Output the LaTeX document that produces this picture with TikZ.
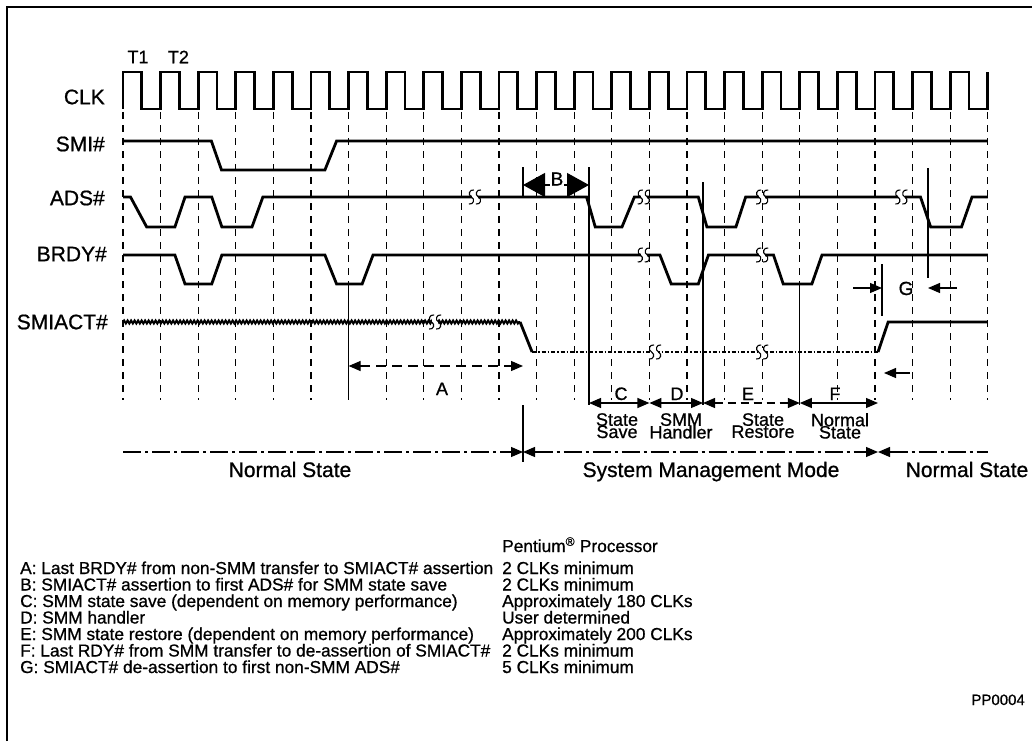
\documentclass[tikz,border=0pt]{standalone}
\usepackage{fontspec}
\setmainfont{Liberation Sans}[FakeBold=0.8]
\usetikzlibrary{arrows.meta,decorations.pathmorphing,positioning}

\begin{document}
\begin{tikzpicture}[
  x=1pt, y=-1pt,
  >={Triangle[length=12pt,width=10pt]},
  every node/.style={
    inner sep=0pt,
    text=black,
    font=\fontsize{17.3}{16.5}\selectfont
  },
  siglabel/.style={anchor=east, font=\fontsize{21}{24}\selectfont},
  tlabel/.style={font=\fontsize{18}{20}\selectfont},
  modelabel/.style={anchor=base, font=\fontsize{21}{24}\selectfont},
  phaselabel/.style={anchor=base, font=\fontsize{18}{20}\selectfont},
  phasetext/.style={
    anchor=north,
    align=center,
    font=\fontsize{18}{12}\selectfont
  },
  legend/.style={anchor=base west},
  wave/.style={line width=2.8pt},
  wavy/.style={
    line width=2pt,
    decorate,
    decoration={snake, amplitude=1.5pt, segment length=3.5pt}
  },
  lowdots/.style={line width=2.4pt, dash pattern=on 4pt off 2pt on 1.5pt off 2pt},
  tickline/.style={line width=1.2pt, dash pattern=on 7pt off 6pt},
  edgeline/.style={line width=1.3pt},
  dimline/.style={line width=1.2pt},
  modeline/.style={line width=1.2pt, dash pattern=on 18pt off 4pt on 3pt off 4pt},
  bigtips/.style={{Triangle[length=22pt,width=24pt]}-{Triangle[length=22pt,width=24pt]}},
  sbrk/.pic={
    \fill[white] (-3.2pt,-4pt) rectangle (3.2pt,4pt);
    \foreach \s in {-3.5pt,3.5pt}
      \draw[line width=1.1pt, xshift=\s]
        (2.5pt,7pt) .. controls (-2pt,8pt) and (-4pt,2pt) .. (0pt,0pt)
        .. controls (4pt,-2pt) and (2pt,-8pt) .. (-2.5pt,-7pt);
  }
]
  \useasboundingbox (0,0) rectangle (1032,741);
  \draw[line width=1.5pt] (7,741) -- (7,7) -- (1032,7);

  % signal names
  \node[tlabel] (tone) at (138,57) {T1};
  \node[tlabel, right=19pt of tone] (ttwo) {T2};
  \node[siglabel] (clk) at (105,97) {CLK};
  \node[siglabel] (smi) at (105,144) {SMI\#};
  \node[siglabel] (ads) at (105,198) {ADS\#};
  \node[siglabel] (brdy) at (107,254) {BRDY\#};
  \node[siglabel] (smiact) at (108,322) {SMIACT\#};

  \begin{scope}[xshift=123pt, x=37.6pt]
    % clock grid
    \foreach \k in {0,...,5,7,8,...,17,19,20,...,23}
      \draw[tickline] (\k,112) -- (\k,400);
    \foreach \k in {6,18}
      \draw[tickline] (\k,112) -- (\k,284);

    % waveforms
    \draw[wave] (0,109) \foreach \k in {0,...,22} {
      -- (\k,72) -- (\k+0.5,72) -- (\k+0.5,109) -- (\k+1,109) } -- (23,72);
    \draw[wave] (0,141) -- (2.35,141) -- (2.62,170) -- (5.37,170)
      -- (5.68,141) -- (23,141);
    \draw[wave] (0,197) -- (0.2,197) -- (0.63,227) -- (1.38,227)
      -- (1.65,197) -- (2.36,197) -- (2.63,227) -- (3.43,227)
      -- (3.72,197) -- (12.33,197) -- (12.56,227) -- (13.27,227)
      -- (13.6,197) -- (15.3,197) -- (15.53,227) -- (16.3,227)
      -- (16.56,197) -- (21.21,197) -- (21.48,227) -- (22.3,227)
      -- (22.58,197) -- (23,197);
    \draw[wave] (0,255) -- (1.38,255) -- (1.65,284) -- (2.36,284)
      -- (2.63,255) -- (5.37,255) -- (5.68,284) -- (6.36,284)
      -- (6.65,255) -- (14.28,255) -- (14.58,284) -- (15.3,284)
      -- (15.57,255) -- (17.3,255) -- (17.56,284) -- (18.32,284)
      -- (18.59,255) -- (23,255);
    \draw[wavy] (0,322) -- (10.56,322);
    \draw[wave] (10.56,322) -- (10.88,352);
    \draw[lowdots] (10.88,352) -- (20.08,352);
    \draw[wave] (20.08,352) -- (20.35,322) -- (23,322);

    % breaks
    \foreach \t/\v in {9.36/197, 13.85/197, 17.0/197, 20.7/197,
                       13.85/255, 17.0/255,
                       8.3/322, 14.15/352, 17.0/352}
      \pic at (\t,\v) {sbrk};
  \end{scope}

  % event markers
  \draw[edgeline] (348.6,284) -- (348.6,400);
  \draw[edgeline] (799.8,284) -- (799.8,405);
  \draw[edgeline] (523,167) -- (523,197);
  \draw[edgeline] (589,167) -- (589,405);
  \draw[edgeline] (703,182) -- (703,405);
  \draw[edgeline] (523,405) -- (523,462);
  \draw[edgeline] (882,264) -- (882,316);
  \draw[edgeline] (928,168) -- (928,278);

  % A
  \coordinate (aL) at (348.6,366);
  \coordinate (aR) at (523,366);
  \draw[dimline, <->, dash pattern=on 10pt off 6pt] (aL) -- (aR);
  \node[phaselabel] (labA) at (442,395) {A};

  % B
  \coordinate (bL) at (523,185);
  \coordinate (bR) at (589,185);
  \draw[dimline, bigtips] (bL) -- (bR);
  \node[fill=white, inner sep=0.5pt, font=\fontsize{19}{20}\selectfont]
    (labB) at (557,179) {B};

  % C to F
  \coordinate (pC) at (589,403);
  \coordinate (pD) at (649.4,403);
  \coordinate (pE) at (703,403);
  \coordinate (pF) at (799.8,403);
  \coordinate (pN) at (878,403);
  \draw[dimline, <->] (pC) -- (pD);
  \draw[dimline, <->] (pD) -- (pE);
  \draw[dimline, <->, dash pattern=on 8pt off 5pt] (pE) -- (pF);
  \draw[dimline, <->] (pF) -- (pN);
  \node[phaselabel] (labC) at (621,400) {C};
  \node[phaselabel] (labD) at (677,400) {D};
  \node[phaselabel] (labE) at (748,400) {E};
  \node[phaselabel] (labF) at (835,400) {F};
  \node[phasetext] (txtC) at (617,413) {State\\[-1.5pt]Save};
  \node[phasetext] (txtD) at (681,413) {SMM\\[-1.5pt]Handler};
  \node[phasetext] (txtE) at (763,413) {State\\[-1.5pt]Restore};
  \node[phasetext] (txtF) at (840,413) {Normal\\[-1.5pt]State};

  % G
  \coordinate (gL) at (882,288);
  \coordinate (gR) at (928,288);
  \draw[dimline, ->] (853,288) -- (gL);
  \draw[dimline, ->] (957,288) -- (gR);
  \node[phaselabel, font=\fontsize{19}{20}\selectfont] (labG) at (906,295) {G};
  \coordinate (gU) at (884,373);
  \draw[dimline, ->] (910,373) -- (gU);

  % operating modes
  \coordinate (mS) at (123,452);
  \coordinate (mA) at (523,452);
  \coordinate (mB) at (878,452);
  \coordinate (mE) at (988,452);
  \draw[modeline, ->] (mS) -- (mA);
  \draw[modeline, <->] (mA) -- (mB);
  \draw[modeline, <-] (mB) -- (mE);
  \node[modelabel] (normleft) at (290,477) {Normal State};
  \node[modelabel] (smmmode) at (711,477) {System Management Mode};
  \node[modelabel] (normright) at (967,477) {Normal State};

  % legend
  \node[legend] (cpu) at (502,552) {Pentium\textsuperscript{\textregistered} Processor};
  \foreach \id/\desc/\clks [count=\i from 0] in {
      A/{Last BRDY\# from non-SMM transfer to SMIACT\# assertion}/{2 CLKs minimum},
      B/{SMIACT\# assertion to first ADS\# for SMM state save}/{2 CLKs minimum},
      C/{SMM state save (dependent on memory performance)}/{Approximately 180 CLKs},
      D/{SMM handler}/{User determined},
      E/{SMM state restore (dependent on memory performance)}/{Approximately 200 CLKs},
      F/{Last RDY\# from SMM transfer to de-assertion of SMIACT\#}/{2 CLKs minimum},
      G/{SMIACT\# de-assertion to first non-SMM ADS\#}/{5 CLKs minimum}} {
    \node[legend] (key\id) at (20,574+16.5*\i) {\id: \desc};
    \node[legend] (val\id) at (502,574+16.5*\i) {\clks};
  }
  \node[anchor=base east, font=\fontsize{15}{17}\selectfont] (figid) at (1025,705) {PP0004};
\end{tikzpicture}
\end{document}
